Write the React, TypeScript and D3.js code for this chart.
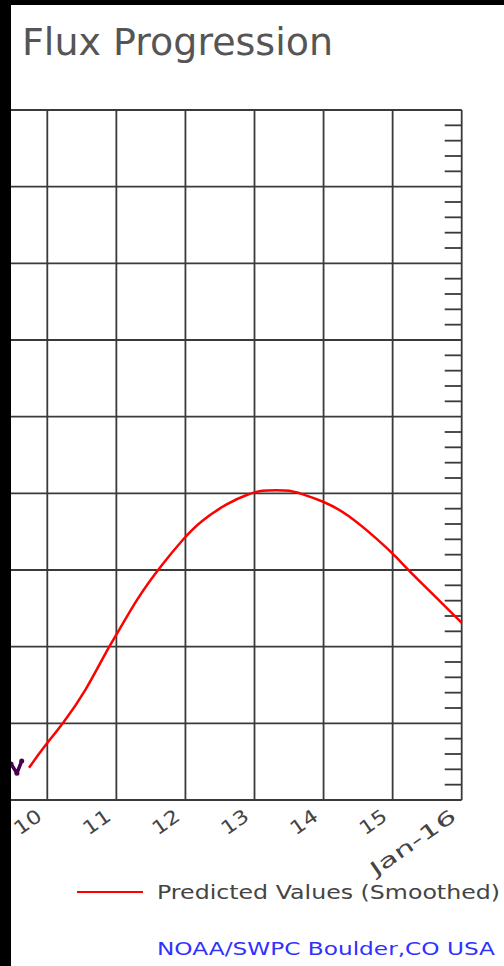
import React from 'react';
import * as d3 from 'd3';

// predicted (smoothed) flux
const predDays = [9.735, 9.94, 10.23, 10.55, 10.89, 11.02, 11.3, 11.63, 11.99, 12.21, 12.6, 12.93, 13.11, 13.31, 13.51, 13.66, 13.99, 14.34, 14.82, 15.02, 15.29, 15.68, 16.0];
const predValues = [64.2, 66.8, 70.0, 74.1, 80.0, 81.8, 86.3, 90.4, 94.3, 96.3, 98.7, 100.0, 100.4, 100.4, 100.4, 100.0, 99.0, 97.4, 93.7, 92.0, 89.4, 86.0, 83.1];

// observed points at the very left edge
const obsDays = [9.475, 9.56, 9.63];
const obsValues = [64.7, 63.5, 65.1];

const dayTicks = [10, 11, 12, 13, 14, 15, 16];
const dayLabels = ['10', '11', '12', '13', '14', '15', 'Jan-16'];

const W = 504, H = 966;
const font = '"DejaVu Sans", sans-serif';
const gridColor = '#3a3a3a';

export default function App() {
    const x = d3.scaleLinear().domain([10, 16]).range([47.3, 461.7]);
    const y = d3.scaleLinear().domain([60, 150]).range([800, 110]);

    const majors = d3.range(60, 151, 10);
    const minors = d3.range(60, 150, 2).filter(v => v % 10 !== 0);

    const line = d3.line<number>()
        .x((d, i) => x(predDays[i]))
        .y(d => y(d))
        .curve(d3.curveBasis);

    const obsLine = d3.line<number>()
        .x((d, i) => x(obsDays[i]))
        .y(d => y(d));

    const x0 = 0, x1 = x(16);

    return (
        <svg width={W} height={H} style={{ position: 'absolute', left: 0, top: 0 }}>
            <rect width={W} height={H} fill="#fff" />

            <text x={22} y={55} fontFamily={font} fontSize={37} fill="#555"
                textLength={311} lengthAdjust="spacingAndGlyphs">Flux Progression</text>

            {/* grid */}
            {majors.map(v => (
                <line key={'h' + v} x1={x0} x2={x1} y1={y(v)} y2={y(v)} stroke={gridColor} strokeWidth={1.8} />
            ))}
            {dayTicks.map(d => (
                <line key={'v' + d} x1={x(d)} x2={x(d)} y1={y(150)} y2={y(60)} stroke={gridColor} strokeWidth={1.8} />
            ))}
            {minors.map(v => (
                <line key={'m' + v} x1={x1 - 17} x2={x1} y1={y(v)} y2={y(v)} stroke={gridColor} strokeWidth={1.8} />
            ))}

            {/* series */}
            <path d={obsLine(obsValues) || ''} fill="none" stroke="#4a0050" strokeWidth={3.5} strokeLinejoin="round" />
            {obsValues.map((v, i) => (
                <circle key={'o' + i} cx={x(obsDays[i])} cy={y(v)} r={2.5} fill="#4a0050" />
            ))}
            <path d={line(predValues) || ''} fill="none" stroke="#ff0000" strokeWidth={2.5} />

            {/* x labels */}
            {dayTicks.map((d, i) => (
                <text key={'l' + d} transform={`translate(${x(d) - 4},${819}) rotate(-35)`}
                    textAnchor="end" fontFamily={font} fontSize={19} fill="#444"
                    textLength={dayLabels[i].length > 2 ? 100 : 29} lengthAdjust="spacingAndGlyphs">{dayLabels[i]}</text>
            ))}

            {/* legend */}
            <line x1={77} x2={143} y1={892} y2={892} stroke="#ff0000" strokeWidth={2} />
            <text x={157} y={899} fontFamily={font} fontSize={19} fill="#444"
                textLength={343} lengthAdjust="spacingAndGlyphs">Predicted Values (Smoothed)</text>
            <text x={157} y={955} fontFamily={font} fontSize={17} fill="#3030ff"
                textLength={338} lengthAdjust="spacingAndGlyphs">NOAA/SWPC Boulder,CO USA</text>

            {/* black frame edges */}
            <rect x={0} y={0} width={11} height={H} fill="#000" />
            <rect x={0} y={0} width={W} height={5} fill="#000" />
        </svg>
    );
}
